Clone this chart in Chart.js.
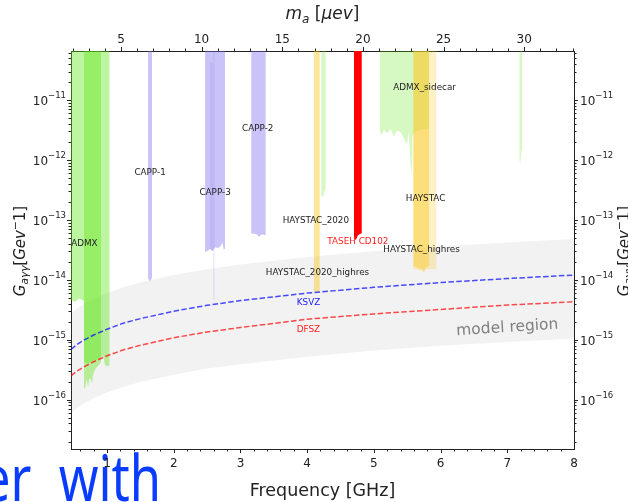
<!DOCTYPE html>
<html>
<head>
<meta charset="utf-8">
<script src="https://cdn.jsdelivr.net/npm/chart.js@4.4.0/dist/chart.umd.min.js"></script>
<style>
html, body { margin: 0; padding: 0; overflow: hidden; background: #fff; }
#wrap { position: relative; width: 628px; height: 502px; }
#axionChart { position: absolute; left: 0; top: 0; }
#overlay {
    position: absolute; left: -18px; top: 445px;
    font-family: "Noto Sans"; font-size: 64px; line-height: 1;
    word-spacing: 18px;
    color: #0a3cff; white-space: nowrap;
    transform: scaleX(0.79); transform-origin: left top;
}
</style>
</head>
<body>
<div id="wrap">
    <div id="overlay">er with</div>
    <canvas id="axionChart" width="628" height="502"></canvas>
</div>
<script>
// Axis limits
const GHZ_TO_UEV = 4.1357;
const freqLimits = [0.46, 8];
const gLimits = [1.5e-17, 6.6e-11];

// Tick values
const freqTicks = [1, 2, 3, 4, 5, 6, 7, 8];
const massTicks = [5, 10, 15, 20, 25, 30];
const gTickExp = [-16, -15, -14, -13, -12, -11];

// Model band + KSVZ / DFSZ lines
const modelFreq = [0.46, 0.55, 0.65, 0.8, 1.0, 1.25, 1.5, 2, 2.5, 3, 4, 5, 6, 7, 8];
const modelUpper = [2.8e-15, 3.3e-15, 3.9e-15, 4.8e-15, 6.0e-15, 7.5e-15, 9.0e-15, 1.2e-14, 1.5e-14, 1.8e-14, 2.4e-14, 3.0e-14, 3.6e-14, 4.2e-14, 4.8e-14];
const modelLower = [6.0e-17, 7.2e-17, 8.5e-17, 1.05e-16, 1.31e-16, 1.64e-16, 1.97e-16, 2.6e-16, 3.3e-16, 3.9e-16, 5.2e-16, 6.6e-16, 7.9e-16, 9.2e-16, 1.05e-15];
const ksvzG = [6.9e-16, 8.3e-16, 9.8e-16, 1.2e-15, 1.5e-15, 1.9e-15, 2.25e-15, 3.0e-15, 3.75e-15, 4.5e-15, 6.0e-15, 7.5e-15, 9.0e-15, 1.05e-14, 1.2e-14];
const dfszG = [2.5e-16, 3.0e-16, 3.5e-16, 4.3e-16, 5.4e-16, 6.8e-16, 8.1e-16, 1.08e-15, 1.35e-15, 1.6e-15, 2.2e-15, 2.7e-15, 3.2e-15, 3.8e-15, 4.3e-15];

// Exclusion limits (lower edge, excluded up to the top)
const admxFreq = [0.46, 0.52, 0.58, 0.64, 0.655, 0.655, 0.72, 0.78, 0.84, 0.90, 0.94, 0.97, 1.0, 1.04];
const admxG = [4.6e-15, 4.3e-15, 4.9e-15, 4.5e-15, 4.6e-15, 4.2e-16, 4.0e-16, 4.4e-16, 4.6e-16, 5.0e-16, 5.5e-16, 3.8e-16, 3.6e-16, 3.7e-16];
const admx2Freq = [0.655, 0.67, 0.685, 0.70, 0.715, 0.73, 0.745, 0.76, 0.775, 0.79, 0.805, 0.835, 0.865, 0.91];
const admx2G = [1.6e-16, 1.5e-16, 1.9e-16, 2.2e-16, 1.6e-16, 2.1e-16, 2.3e-16, 2.1e-16, 1.85e-16, 2.6e-16, 2.9e-16, 3.4e-16, 3.6e-16, 4.3e-16];

const capp1Freq = [1.615, 1.63, 1.645, 1.66, 1.675];
const capp1G = [1.05e-14, 1.0e-14, 9.5e-15, 1.0e-14, 1.1e-14];
const capp3Freq = [2.47, 2.50, 2.55, 2.58, 2.62, 2.66, 2.70, 2.73, 2.75, 2.77];
const capp3G = [2.9e-14, 3.0e-14, 3.3e-14, 3.0e-14, 3.5e-14, 3.4e-14, 3.6e-14, 4.2e-14, 3.2e-14, 3.3e-14];
const capp3SpikeFreq = [2.595, 2.61];
const capp3SpikeG = [4.6e-15, 4.6e-15];
const capp3StripFreq = [2.54, 2.59];
const capp3StripTop = [4.3e-11, 4.3e-11];
const capp3StripG = [3.2e-14, 3.0e-14];
const capp2Freq = [3.16, 3.20, 3.24, 3.28, 3.30, 3.33, 3.36, 3.38];
const capp2G = [6.0e-14, 5.9e-14, 5.8e-14, 5.2e-14, 5.6e-14, 5.7e-14, 5.6e-14, 5.6e-14];

const haystac2020Freq = [4.10, 4.13, 4.16, 4.19];
const haystac2020G = [6.5e-15, 6.2e-15, 6.3e-15, 6.4e-15];
const haystacFreq = [5.59, 5.65, 5.72, 5.75, 5.78, 5.83];
const haystacG = [1.7e-14, 1.6e-14, 1.5e-14, 1.3e-14, 1.6e-14, 1.7e-14];
const haystacHrFreq = [5.59, 5.70, 5.80, 5.94];
const haystacHrG = [1.5e-14, 1.45e-14, 1.5e-14, 1.5e-14];

const tasehFreq = [4.70, 4.73, 4.76, 4.79, 4.82];
const tasehG = [5.0e-14, 4.6e-14, 5.5e-14, 5.8e-14, 6.0e-14];

const sidecarLowFreq = [4.21, 4.23, 4.25, 4.28];
const sidecarLowG = [2.5e-13, 2.4e-13, 2.7e-13, 3.5e-13];
const sidecarFreq = [5.09, 5.12, 5.15, 5.20, 5.25, 5.30, 5.35, 5.40, 5.45, 5.50, 5.52, 5.55, 5.57, 5.58, 5.62, 5.70, 5.83];
const sidecarG = [3.0e-12, 2.6e-12, 3.2e-12, 2.8e-12, 3.3e-12, 2.5e-12, 3.1e-12, 2.9e-12, 2.3e-12, 1.8e-12, 3.0e-12, 9.0e-13, 5.0e-13, 2.5e-12, 3.0e-12, 3.2e-12, 3.3e-12];
const sidecarHighFreq = [7.18, 7.195, 7.21, 7.225];
const sidecarHighG = [1.0e-12, 8.5e-13, 1.4e-12, 1.5e-12];

// Text labels on the plot
const labelText = ['ADMX', 'CAPP-1', 'CAPP-3', 'CAPP-2', 'HAYSTAC_2020', 'TASEH CD102', 'ADMX_sidecar', 'HAYSTAC', 'HAYSTAC_highres', 'HAYSTAC_2020_highres', 'KSVZ', 'DFSZ'];
const labelFreq = [0.66, 1.645, 2.62, 3.26, 4.13, 4.76, 5.76, 5.775, 5.715, 4.155, 4.02, 4.02];
const labelG = [4.0e-14, 6.1e-13, 2.8e-13, 3.3e-12, 9.6e-14, 4.3e-14, 1.58e-11, 2.3e-13, 3.2e-14, 1.3e-14, 4.1e-15, 1.47e-15];
const bandLabel = { text: 'model region', freq: 7.0, g: 1.58e-15 };

const FONT = '"DejaVu Sans"';
const GREEN = 'rgba(92, 230, 18, 0.4)';
const GREEN_LIGHT = 'rgba(92, 230, 18, 0.25)';
const PURPLE = 'rgba(123, 104, 238, 0.4)';
const YELLOW = 'rgba(250, 200, 30, 0.45)';
const YELLOW_LIGHT = 'rgba(250, 200, 30, 0.25)';
const labelColors = { 'TASEH CD102': '#ff2020', 'KSVZ': '#2020ff', 'DFSZ': '#ff2020' };

function pts(xs, ys) {
    return xs.map((x, i) => ({ x: x, y: ys[i] }));
}

function region(label, xs, ys, color) {
    return {
        label: label, data: pts(xs, ys), fill: 'end',
        backgroundColor: color, borderColor: 'transparent', borderWidth: 0,
        pointRadius: 0, tension: 0
    };
}

function edge(label, xs, ys) {
    return {
        label: label, data: pts(xs, ys), fill: false,
        borderColor: 'transparent', borderWidth: 0, pointRadius: 0, tension: 0
    };
}

function dashed(label, ys, color) {
    return {
        label: label, data: pts(modelFreq, ys), fill: false,
        borderColor: color, borderWidth: 1.5, borderDash: [5.5, 2.4],
        pointRadius: 0, tension: 0
    };
}

// index 0 is drawn on top
const datasets = [
    dashed('KSVZ', ksvzG, 'rgba(0, 0, 255, 0.7)'),
    dashed('DFSZ', dfszG, 'rgba(255, 0, 0, 0.7)'),
    region('TASEH CD102', tasehFreq, tasehG, '#ff0000'),
    region('HAYSTAC_2020', haystac2020Freq, haystac2020G, YELLOW),
    region('HAYSTAC', haystacFreq, haystacG, YELLOW),
    region('HAYSTAC_highres', haystacHrFreq, haystacHrG, YELLOW_LIGHT),
    region('ADMX_sidecar', sidecarFreq, sidecarG, GREEN_LIGHT),
    region('ADMX_sidecar_low', sidecarLowFreq, sidecarLowG, GREEN_LIGHT),
    region('ADMX_sidecar_high', sidecarHighFreq, sidecarHighG, GREEN_LIGHT),
    region('CAPP-1', capp1Freq, capp1G, PURPLE),
    region('CAPP-2', capp2Freq, capp2G, PURPLE),
    region('CAPP-3', capp3Freq, capp3G, PURPLE),
    region('CAPP-3 spike', capp3SpikeFreq, capp3SpikeG, PURPLE),
    edge('CAPP-3 strip top', capp3StripFreq, capp3StripTop),
    Object.assign(edge('CAPP-3 strip', capp3StripFreq, capp3StripG), { fill: '-1', backgroundColor: 'rgba(123, 104, 238, 0.15)' }),
    region('ADMX', admxFreq, admxG, GREEN),
    region('ADMX 2018-21', admx2Freq, admx2G, GREEN),
    edge('model upper', modelFreq, modelUpper),
    Object.assign(edge('model lower', modelFreq, modelLower), { fill: '-1', backgroundColor: 'rgba(128, 128, 128, 0.1)' })
];

function drawRuns(ctx, runs, x, y, align) {
    let total = 0;
    runs.forEach(r => { ctx.font = r[1]; total += ctx.measureText(r[0]).width; });
    let cx = align === 'center' ? x - total / 2 : align === 'right' ? x - total : x;
    ctx.textAlign = 'left';
    ctx.textBaseline = 'alphabetic';
    runs.forEach(r => {
        ctx.font = r[1];
        ctx.fillText(r[0], cx, y + (r[2] || 0));
        cx += ctx.measureText(r[0]).width;
    });
}

const decor = {
    id: 'decor',
    afterDraw(chart) {
        const ctx = chart.ctx;
        const { x, xTop, y, yRight } = chart.scales;
        const area = chart.chartArea;
        ctx.save();
        ctx.strokeStyle = '#222';
        ctx.fillStyle = '#222';
        ctx.lineWidth = 1;

        const tick = (x1, y1, x2, y2) => {
            ctx.beginPath(); ctx.moveTo(x1, y1); ctx.lineTo(x2, y2); ctx.stroke();
        };

        // bottom axis
        for (let v = 0.6; v < 8; v += 0.2) {
            const p = Math.round(x.getPixelForValue(v)) + 0.5;
            const major = Math.abs(v - Math.round(v)) < 1e-6;
            tick(p, area.bottom, p, area.bottom + (major ? 4 : 2.5));
        }
        ctx.font = '12px ' + FONT;
        ctx.textAlign = 'center';
        ctx.textBaseline = 'alphabetic';
        freqTicks.forEach(v => ctx.fillText(String(v), x.getPixelForValue(v), 467));

        // top axis (mass)
        for (let v = 2; v <= 33; v++) {
            const p = Math.round(xTop.getPixelForValue(v)) + 0.5;
            tick(p, area.top, p, area.top - (v % 5 === 0 ? 4 : 2.5));
        }
        ctx.font = '12px ' + FONT;
        ctx.textAlign = 'center';
        massTicks.forEach(v => ctx.fillText(String(v), xTop.getPixelForValue(v), 43));

        // y axes
        for (let e = -17; e <= -11; e++) {
            for (let k = 1; k <= 9; k++) {
                const v = k * Math.pow(10, e);
                if (v < gLimits[0] || v > gLimits[1]) continue;
                const p = Math.round(y.getPixelForValue(v)) + 0.5;
                const len = k === 1 ? 4 : 2.5;
                tick(area.left, p, area.left - len, p);
                tick(area.right, p, area.right + len, p);
            }
        }
        gTickExp.forEach(e => {
            const p = y.getPixelForValue(Math.pow(10, e));
            const runs = [['10', '12px ' + FONT, 5], ['\u2212' + Math.abs(e), '8.5px ' + FONT, -2]];
            drawRuns(ctx, runs, area.left - 5, p, 'right');
            drawRuns(ctx, runs, area.right + 6, p, 'left');
        });

        // axis titles
        drawRuns(ctx, [['Frequency [GHz]', '17.5px ' + FONT, 0]], (area.left + area.right) / 2, 496, 'center');
        drawRuns(ctx, [
            ['m', 'italic 17px ' + FONT, 0], ['a', 'italic 12px ' + FONT, 3.5],
            [' [', '17px ' + FONT, 0], ['\u03bcev', 'italic 17px ' + FONT, 0], [']', '17px ' + FONT, 0]
        ], (area.left + area.right) / 2, 19, 'center');
        const yTitle = [
            ['G', 'italic 15px ' + FONT, 0], ['a\u03b3\u03b3', 'italic 10.5px ' + FONT, 3],
            ['[', '15px ' + FONT, 0], ['Gev', 'italic 15px ' + FONT, 0],
            ['\u2212', '10.5px ' + FONT, -6], ['1', '15px ' + FONT, 0], [']', '15px ' + FONT, 0]
        ];
        [25, 629].forEach(bx => {
            ctx.save();
            ctx.translate(bx, 251);
            ctx.rotate(-Math.PI / 2);
            drawRuns(ctx, yTitle, 0, 0, 'center');
            ctx.restore();
        });

        // region labels
        ctx.save();
        ctx.beginPath();
        ctx.rect(area.left, area.top, area.right - area.left, area.bottom - area.top);
        ctx.clip();
        ctx.font = '8.8px ' + FONT;
        ctx.textAlign = 'center';
        ctx.textBaseline = 'middle';
        labelText.forEach((t, i) => {
            ctx.fillStyle = labelColors[t] || '#222';
            ctx.fillText(t, x.getPixelForValue(labelFreq[i]), y.getPixelForValue(labelG[i]));
        });
        ctx.translate(x.getPixelForValue(bandLabel.freq), y.getPixelForValue(bandLabel.g));
        ctx.rotate(-3.7 * Math.PI / 180);
        ctx.font = '15.5px ' + FONT;
        ctx.fillStyle = 'rgb(128, 128, 128)';
        ctx.fillText(bandLabel.text, 0, 0);
        ctx.restore();

        ctx.restore();
    }
};

const hiddenTicks = { display: false };
const noGrid = { display: false };
const frame = { display: true, color: '#222', width: 1 };

const axionChart = new Chart(document.getElementById('axionChart'), {
    type: 'line',
    data: { datasets: datasets },
    options: {
        responsive: false,
        animation: false,
        devicePixelRatio: 1,
        layout: { padding: 0 },
        scales: {
            x: {
                type: 'linear', axis: 'x', position: 'bottom',
                min: freqLimits[0], max: freqLimits[1],
                ticks: hiddenTicks, grid: noGrid, border: frame,
                afterFit: s => { s.height = 53; }
            },
            xTop: {
                type: 'linear', axis: 'x', position: 'top',
                min: freqLimits[0] * GHZ_TO_UEV, max: freqLimits[1] * GHZ_TO_UEV,
                ticks: hiddenTicks, grid: noGrid, border: frame,
                afterFit: s => { s.height = 51; }
            },
            y: {
                type: 'logarithmic', axis: 'y', position: 'left',
                min: gLimits[0], max: gLimits[1],
                ticks: hiddenTicks, grid: noGrid, border: frame,
                afterFit: s => { s.width = 71; }
            },
            yRight: {
                type: 'logarithmic', axis: 'y', position: 'right',
                min: gLimits[0], max: gLimits[1],
                ticks: hiddenTicks, grid: noGrid, border: frame,
                afterFit: s => { s.width = 54; }
            }
        },
        plugins: {
            legend: { display: false },
            tooltip: { enabled: false }
        }
    },
    plugins: [decor]
});
</script>
</body>
</html>
